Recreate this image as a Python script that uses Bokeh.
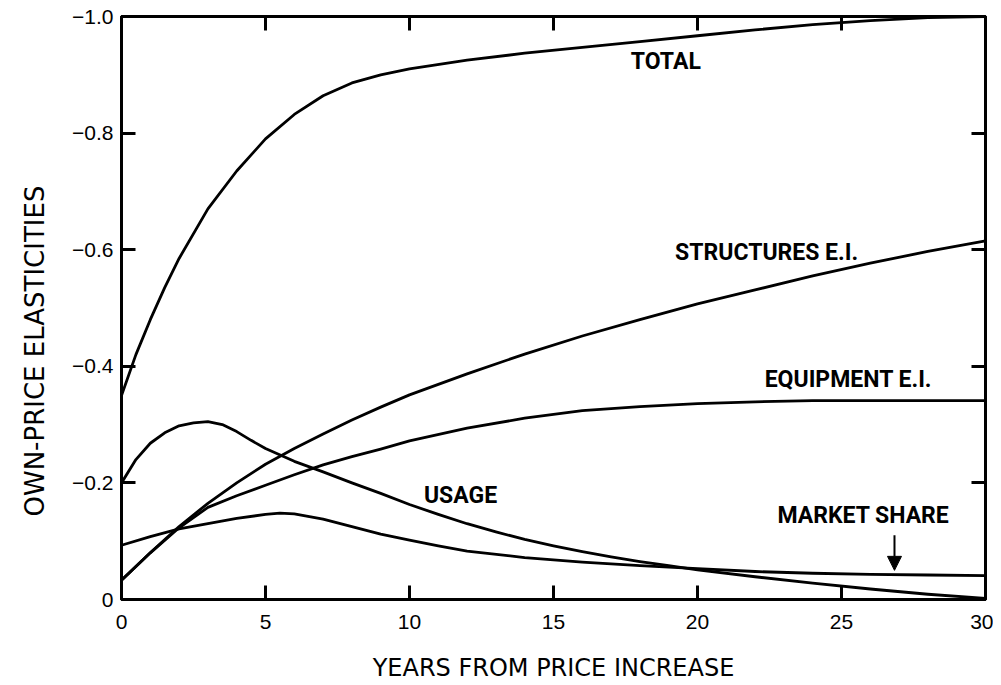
from bokeh.plotting import figure
from bokeh.models import Range1d, LinearAxis, FixedTicker, Label, Arrow, NormalHead, Title
from bokeh.embed import file_html
from bokeh.resources import INLINE

# ---------------- data ----------------
x_ticks = [0, 5, 10, 15, 20, 25, 30]
x_tick_labels = ["0", "5", "10", "15", "20", "25", "30"]
y_ticks = [0, -0.2, -0.4, -0.6, -0.8, -1.0]
y_tick_labels = ["0", "\u22120.2", "\u22120.4", "\u22120.6", "\u22120.8", "\u22121.0"]

total_years = [0, 0.5, 1, 1.5, 2, 3, 4, 5, 6, 7, 8, 9, 10, 12, 14, 16, 18, 20, 22, 24, 26, 28, 30]
total = [-0.35, -0.42, -0.48, -0.535, -0.585, -0.67, -0.735, -0.79, -0.832, -0.864, -0.886,
         -0.90, -0.91, -0.925, -0.937, -0.947, -0.957, -0.967, -0.977, -0.986, -0.993, -0.998, -1.0]

structures_years = [0, 1, 2, 3, 4, 5, 6, 7, 8, 9, 10, 12, 14, 16, 18, 20, 22, 24, 26, 28, 30]
structures = [-0.033, -0.08, -0.125, -0.165, -0.2, -0.232, -0.259, -0.284, -0.308, -0.33, -0.351,
              -0.387, -0.421, -0.452, -0.48, -0.507, -0.531, -0.555, -0.577, -0.597, -0.615]

equipment_years = [0, 1, 2, 3, 4, 5, 6, 7, 8, 9, 10, 12, 14, 16, 18, 20, 22, 24, 26, 28, 30]
equipment = [-0.033, -0.08, -0.123, -0.158, -0.178, -0.196, -0.214, -0.231, -0.245, -0.258, -0.272,
             -0.294, -0.311, -0.324, -0.331, -0.336, -0.339, -0.341, -0.341, -0.341, -0.341]

usage_years = [0, 0.5, 1, 1.5, 2, 2.5, 3, 3.5, 4, 4.5, 5, 6, 7, 8, 9, 10, 11, 12, 13, 14, 15,
               16, 17, 18, 19, 20, 22, 24, 26, 28, 30]
usage = [-0.2, -0.24, -0.268, -0.286, -0.298, -0.303, -0.305, -0.30, -0.288, -0.273, -0.259,
         -0.237, -0.219, -0.2, -0.182, -0.163, -0.146, -0.13, -0.116, -0.103, -0.092,
         -0.082, -0.073, -0.065, -0.058, -0.051, -0.039, -0.028, -0.018, -0.009, -0.002]

market_years = [0, 1, 2, 3, 4, 5, 5.5, 6, 7, 8, 9, 10, 11, 12, 14, 16, 18, 20, 22, 24, 26, 28, 30]
market_share = [-0.093, -0.108, -0.121, -0.13, -0.139, -0.146, -0.148, -0.147, -0.138, -0.125,
                -0.112, -0.102, -0.092, -0.083, -0.072, -0.064, -0.058, -0.053, -0.048, -0.045,
                -0.043, -0.042, -0.041]

# ---------------- figure ----------------
TITLE_FONT = "DejaVu Sans"
CURVE_FONT = "Roboto"

p = figure(width=993, height=684,
           x_range=Range1d(0, 30), y_range=Range1d(0, -1.0),
           output_backend="svg", toolbar_location=None,
           min_border_left=121, min_border_right=8, min_border_top=16, min_border_bottom=85)
p.grid.visible = False
p.background_fill_color = "white"
p.border_fill_color = "white"
p.outline_line_color = "black"
p.outline_line_width = 3

def style_axis(ax, ticks, labels, show_labels=True):
    ax.ticker = FixedTicker(ticks=ticks)
    ax.major_label_overrides = {t: l for t, l in zip(ticks, labels)}
    ax.major_tick_in = 14
    ax.major_tick_out = 0
    ax.major_tick_line_width = 3
    ax.major_tick_line_color = "black"
    ax.minor_tick_line_color = None
    ax.axis_line_width = 3
    ax.axis_line_color = "black"
    if show_labels:
        ax.major_label_text_font = "Liberation Sans"
        ax.major_label_text_font_size = "21px"
        ax.major_label_text_color = "black"
    else:
        ax.major_label_text_font_size = "0px"
        ax.major_label_text_color = None
        ax.major_label_standoff = 0

style_axis(p.xaxis[0], x_ticks, x_tick_labels)
p.xaxis[0].major_label_standoff = 15
p.xaxis[0].axis_label = "YEARS FROM PRICE INCREASE"
p.xaxis[0].axis_label_text_font = TITLE_FONT
p.xaxis[0].axis_label_text_font_style = "normal"
p.xaxis[0].axis_label_text_font_size = "24px"
p.xaxis[0].axis_label_text_color = "black"
p.xaxis[0].axis_label_standoff = 22

style_axis(p.yaxis[0], y_ticks, y_tick_labels)
p.yaxis[0].major_label_standoff = 8

top_axis = LinearAxis()
style_axis(top_axis, x_ticks, x_tick_labels, show_labels=False)
p.add_layout(top_axis, "above")

right_axis = LinearAxis()
style_axis(right_axis, y_ticks, y_tick_labels, show_labels=False)
p.add_layout(right_axis, "right")

# y-axis title, placed lower than the frame centre as in the reference
p.add_layout(Title(text="OWN-PRICE ELASTICITIES", align="left", offset=83,
                   vertical_align="top", standoff=36,
                   text_font=TITLE_FONT, text_font_style="normal",
                   text_font_size="26px", text_color="black"), "left")

# ---------------- curves ----------------
for xs, ys in [(total_years, total), (structures_years, structures),
               (equipment_years, equipment), (usage_years, usage),
               (market_years, market_share)]:
    p.line(xs, ys, line_color="black", line_width=2.8, line_join="round", line_cap="round")

# ---------------- annotations ----------------
def curve_label(x, y, text):
    p.add_layout(Label(x=x, y=y, text=text, text_align="center", text_baseline="middle",
                       text_font=CURVE_FONT, text_font_size="23px",
                       text_font_style="bold", text_color="black"))

curve_label(18.9, -0.923, "TOTAL")
curve_label(22.4, -0.595, "STRUCTURES E.I.")
curve_label(25.24, -0.377, "EQUIPMENT E.I.")
curve_label(11.77, -0.178, "USAGE")
curve_label(25.76, -0.144, "MARKET SHARE")

p.add_layout(Arrow(x_start=26.84, y_start=-0.11, x_end=26.84, y_end=-0.05,
                   line_color="black", line_width=2,
                   end=NormalHead(size=14, fill_color="black", line_color="black")))

open("out.html", "w").write(file_html(p, INLINE))
